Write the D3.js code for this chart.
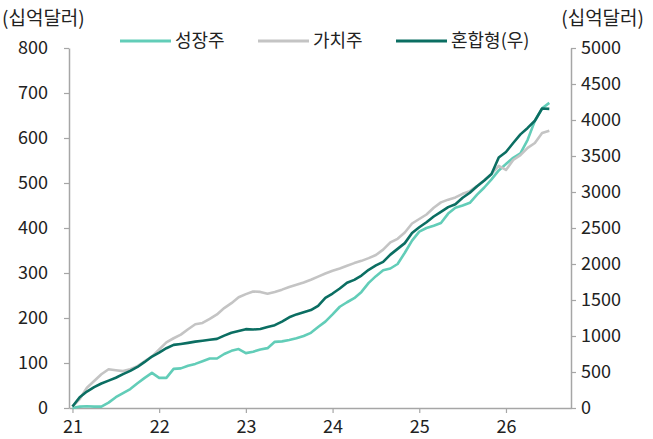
<!DOCTYPE html>
<html>
<head>
<meta charset="utf-8">
<script src="https://cdn.jsdelivr.net/npm/d3@7"></script>
<style>
  body { margin: 0; background: #fff; }
  svg text { font-family: "Noto Sans CJK KR", "Noto Sans", sans-serif; fill: #222; }
</style>
</head>
<body>
<svg id="chart" width="653" height="439"></svg>
<script>
// monthly, Jan 2021 ~ Jul 2026
const startYear = 21;
const yearTicks = [21, 22, 23, 24, 25, 26];
const leftTicks = [0, 100, 200, 300, 400, 500, 600, 700, 800];
const rightTicks = [0, 500, 1000, 1500, 2000, 2500, 3000, 3500, 4000, 4500, 5000];

// 성장주 (left axis)
const growth = [0, 3, 4, 3, 3, 12, 24, 33, 42, 55, 67, 78, 67, 67, 87, 88, 94, 98, 104, 110,
  110, 120, 127, 131, 122, 125, 130, 133, 147, 148, 151, 155, 160, 167, 180, 192, 208, 225, 235, 244,
  258, 278, 293, 306, 310, 320, 345, 372, 392, 400, 405, 411, 432, 445, 450, 456, 474, 490, 508, 528,
  542, 556, 566, 596, 638, 666, 678];
// 가치주 (left axis)
const value = [3, 20, 45, 60, 75, 86, 84, 82, 86, 93, 104, 114, 130, 146, 155, 163, 175, 186, 189, 198,
  208, 222, 233, 246, 253, 259, 258, 254, 258, 263, 269, 274, 279, 285, 292, 299, 305, 310, 316, 322,
  327, 333, 340, 352, 368, 376, 390, 410, 420, 430, 445, 457, 463, 468, 476, 482, 493, 506, 520, 538,
  529, 551, 562, 578, 589, 611, 616];
// 혼합형 (right axis)
const blend = [20, 150, 228, 290, 340, 380, 420, 470, 515, 570, 640, 715, 770, 830, 877, 890, 905, 922, 935, 948,
  960, 1005, 1045, 1070, 1095, 1090, 1097, 1125, 1150, 1200, 1260, 1300, 1330, 1360, 1420, 1530, 1590, 1660, 1740, 1780,
  1840, 1920, 1980, 2030, 2130, 2210, 2290, 2430, 2510, 2580, 2660, 2725, 2790, 2830, 2920, 2990, 3080, 3160, 3250, 3480,
  3556, 3680, 3800, 3890, 3990, 4160, 4155];

const series = [
  { name: "성장주", data: growth, axis: "left", color: "#62cdb8" },
  { name: "가치주", data: value, axis: "left", color: "#c4c4c4" },
  { name: "혼합형(우)", data: blend, axis: "right", color: "#0b6e62" }
];

const svg = d3.select("#chart");
const axisColor = "#a6a6a6";

const x = d3.scaleLinear().domain([20.96, 26.75]).range([69, 571]);
const yL = d3.scaleLinear().domain([0, 800]).range([408, 48]);
const yR = d3.scaleLinear().domain([0, 5000]).range([408, 48]);

// axes
const gL = svg.append("g").attr("transform", "translate(69,0)")
  .call(d3.axisLeft(yL).tickValues(leftTicks).tickSize(5).tickSizeOuter(0).tickPadding(16));
const gR = svg.append("g").attr("transform", "translate(571,0)")
  .call(d3.axisRight(yR).tickValues(rightTicks).tickFormat(d3.format("d")).tickSize(5).tickSizeOuter(0).tickPadding(5));
const gB = svg.append("g").attr("transform", "translate(0,408)")
  .call(d3.axisBottom(x).tickValues(yearTicks).tickFormat(d3.format("d")).tickSize(5).tickSizeOuter(0).tickPadding(7));

[gL, gR, gB].forEach(g => {
  g.selectAll("path.domain").attr("stroke", axisColor).attr("stroke-width", 1.5);
  g.selectAll(".tick line").attr("stroke", axisColor).attr("stroke-width", 1.2);
  g.selectAll(".tick text").style("font-size", "18px").attr("fill", "#222");
});

// lines
const line = (sc) => d3.line()
  .x((d, i) => x(startYear + i / 12))
  .y(d => sc(d));

series.forEach(s => {
  svg.append("path")
    .datum(s.data)
    .attr("fill", "none")
    .attr("stroke", s.color)
    .attr("stroke-width", 2.6)
    .attr("stroke-linejoin", "round")
    .attr("d", line(s.axis === "left" ? yL : yR)(s.data));
});

// unit labels
svg.append("text").attr("x", 2).attr("y", 25).style("font-size", "19px").text("(십억달러)");
svg.append("text").attr("x", 644).attr("y", 25).attr("text-anchor", "end").style("font-size", "19px").text("(십억달러)");

// legend
const legendX = [120, 258, 396];
const lg = svg.append("g");
series.forEach((s, i) => {
  lg.append("line")
    .attr("x1", legendX[i]).attr("x2", legendX[i] + 51)
    .attr("y1", 41).attr("y2", 41)
    .attr("stroke", s.color).attr("stroke-width", 3);
  lg.append("text")
    .attr("x", legendX[i] + 55).attr("y", 47)
    .style("font-size", "18px")
    .text(s.name);
});
</script>
</body>
</html>
